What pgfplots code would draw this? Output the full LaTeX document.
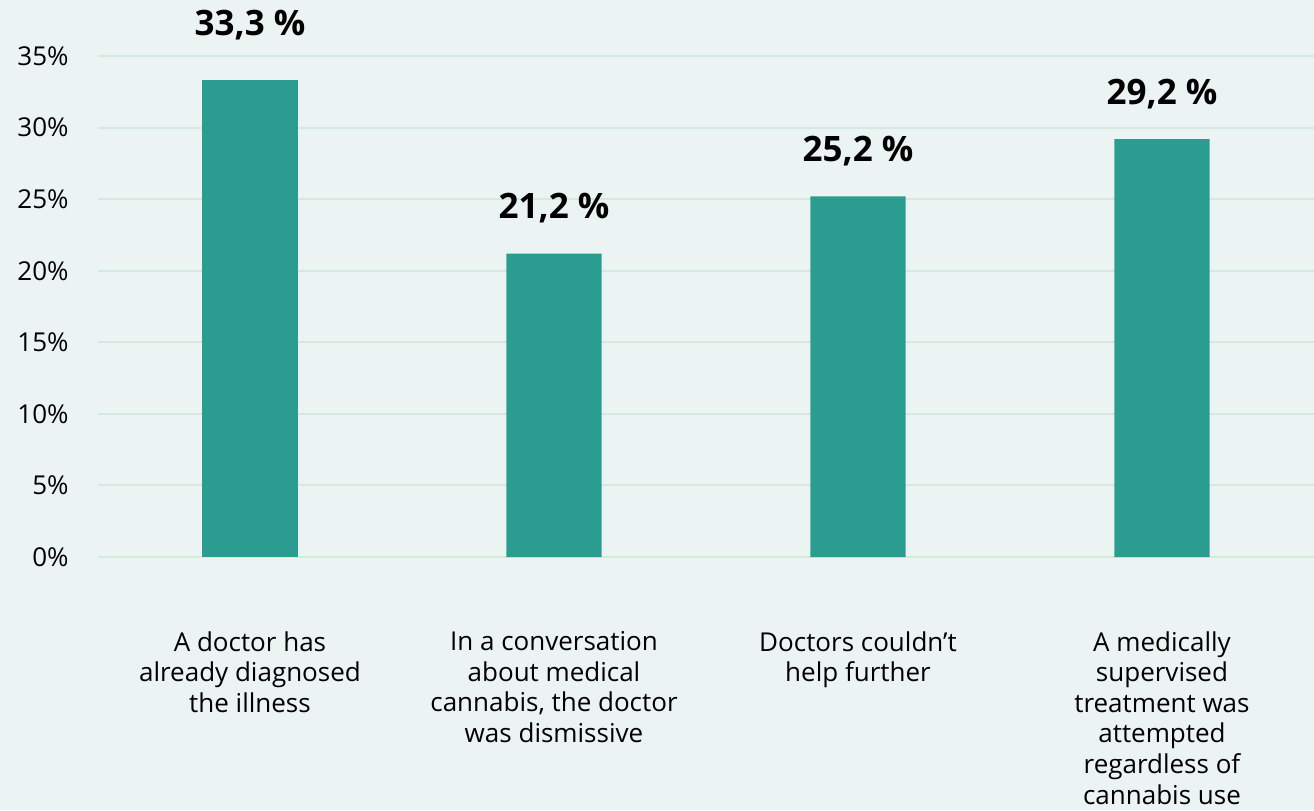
\documentclass[border=0pt]{standalone}
\usepackage{pgfplots}
\pgfplotsset{compat=1.18}
\usepackage{fontspec}
\setmainfont{Open Sans}
\definecolor{bg}{HTML}{EBF4F2}
\definecolor{barc}{HTML}{2A9D90}
\definecolor{gridc}{HTML}{D4EADF}
\begin{document}
\begin{tikzpicture}
\fill[bg] (0,0) rectangle (657pt,405pt);
\path[use as bounding box] (0,0) rectangle (657pt,405pt);
\begin{axis}[
  at={(49pt,126.5pt)}, anchor=south west,
  scale only axis, width=608pt, height=250.5pt,
  xmin=-0.5, xmax=3.5, ymin=0, ymax=35,
  axis line style={draw=none},
  /pgf/number format/assume math mode=true,
  ytick={0,5,10,15,20,25,30,35},
  yticklabel={\pgfmathprintnumber{\tick}\%},
  ymajorgrids, grid style={gridc, line width=1pt},
  major tick length=0pt,
  xtick={0,1,2,3},
  xticklabels={
    {A doctor has\\already diagnosed\\the illness},
    {In a conversation\\about medical\\cannabis, the doctor\\was dismissive},
    {Doctors couldn’t\\help further},
    {A medically\\supervised\\treatment was\\attempted\\regardless of\\cannabis use}},
  xticklabel style={align=center, anchor=north, inner sep=0pt, yshift=-37pt,
    font=\fontsize{13}{15.3}\selectfont},
  yticklabel style={anchor=east, inner sep=0pt, xshift=-14.5pt,
    font=\fontsize{13}{15.8}\selectfont},
  ybar, bar width=0.3135, bar shift=0pt,
  point meta=y,
  nodes near coords={\pgfmathprintnumber[fixed, fixed zerofill, precision=1, use comma]{\pgfplotspointmeta}~\%},
  nodes near coords style={font=\bfseries\fontsize{17.5}{20}\selectfont, anchor=center, yshift=22.5pt},
  clip=false,
]
\addplot[fill=barc, draw=none, nodes near coords style={yshift=5pt}] coordinates {(0,33.3)};
\addplot[fill=barc, draw=none] coordinates {(1,21.2) (2,25.2) (3,29.2)};
\end{axis}
\end{tikzpicture}
\end{document}
